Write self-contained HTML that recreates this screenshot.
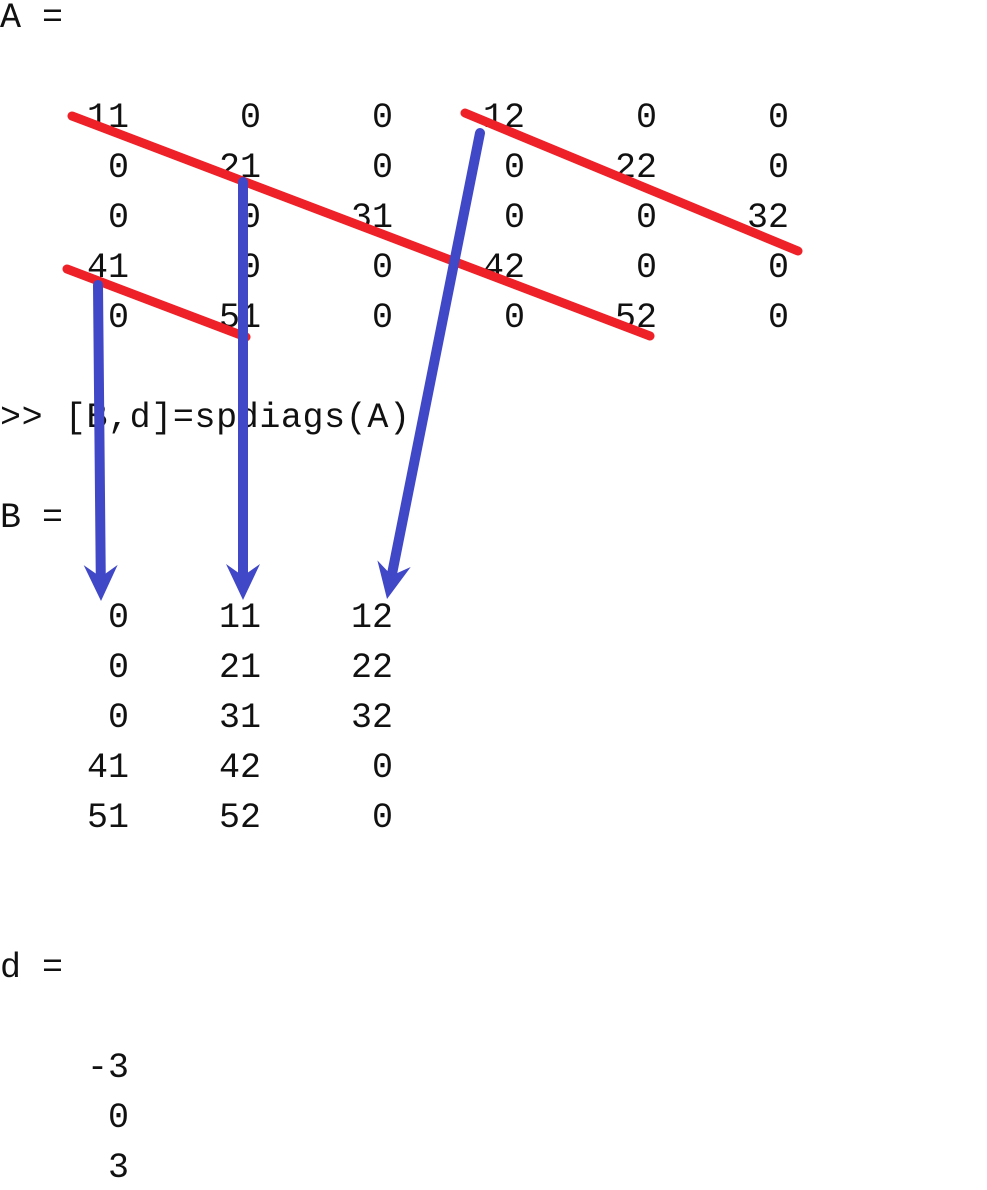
<!DOCTYPE html>
<html><head><meta charset="utf-8"><style>
html,body{margin:0;padding:0;background:#fff;width:987px;height:1190px;overflow:hidden}
svg text{font-family:"Liberation Mono","Courier New",monospace;font-size:35px;fill:#111}
</style></head><body>
<svg id="s" width="987" height="1190" xmlns="http://www.w3.org/2000/svg">
<text x="0" y="27">A =</text>
<text x="0" y="427" textLength="410">&gt;&gt; [B,d]=spdiags(A)</text>
<text x="0" y="527">B =</text>
<text x="0" y="977">d =</text>
<g id="nums"></g>
<g id="ann"></g>
</svg>
<script>
const matA=[[11,0,0,12,0,0],[0,21,0,0,22,0],[0,0,31,0,0,32],[41,0,0,42,0,0],[0,51,0,0,52,0]];
const matB=[[0,11,12],[0,21,22],[0,31,32],[41,42,0],[51,52,0]];
const vecD=[-3,0,3];
const NS='http://www.w3.org/2000/svg';
const g=document.getElementById('nums');
const colRight=c=>128+132*c;
function put(val,c,baseY,name){
  const t=document.createElementNS(NS,'text');
  t.setAttribute('x',colRight(c)+1);t.setAttribute('y',baseY);
  t.setAttribute('text-anchor','end');t.textContent=val;
  
  
  g.appendChild(t);
}
matA.forEach((r,i)=>r.forEach((v,j)=>put(v,j,127+50*i,'matrix-a-cell')));
matB.forEach((r,i)=>r.forEach((v,j)=>put(v,j,627+50*i,'matrix-b-cell')));
vecD.forEach((v,i)=>put(v,0,1077+50*i,'vector-d-cell'));
const a=document.getElementById('ann');
function line(x1,y1,x2,y2,col,w,name){
  const l=document.createElementNS(NS,'line');
  l.setAttribute('x1',x1);l.setAttribute('y1',y1);l.setAttribute('x2',x2);l.setAttribute('y2',y2);
  l.setAttribute('stroke',col);l.setAttribute('stroke-width',w);l.setAttribute('stroke-linecap','round');
  
  
  a.appendChild(l);
}
function arrow(x1,y1,tx,ty,name){
  const dx=tx-x1,dy=ty-y1,L=Math.hypot(dx,dy),ux=dx/L,uy=dy/L,px=-uy,py=ux;
  line(x1,y1,tx-ux*25,ty-uy*25,'#4048c8',10,name);
  const hl=36,hw=17,notch=24;
  const bx=tx-ux*hl,by=ty-uy*hl;
  const nx=tx-ux*notch,ny=ty-uy*notch;
  const p=document.createElementNS(NS,'polygon');
  p.setAttribute('points',`${tx},${ty} ${bx+px*hw},${by+py*hw} ${nx},${ny} ${bx-px*hw},${by-py*hw}`);
  p.setAttribute('fill','#4048c8');
  
  
  a.appendChild(p);
}
line(72,116,650,336,'#ee2028',9,'main-diagonal-line');
line(465,113,798,251,'#ee2028',9,'upper-diagonal-line');
line(67,269,246,337,'#ee2028',9,'lower-diagonal-line');
arrow(98,285,101,601,'arrow-lower-diagonal');
arrow(243,182,243,600,'arrow-main-diagonal');
arrow(480,133,387,599,'arrow-upper-diagonal');
</script>
</body></html>
